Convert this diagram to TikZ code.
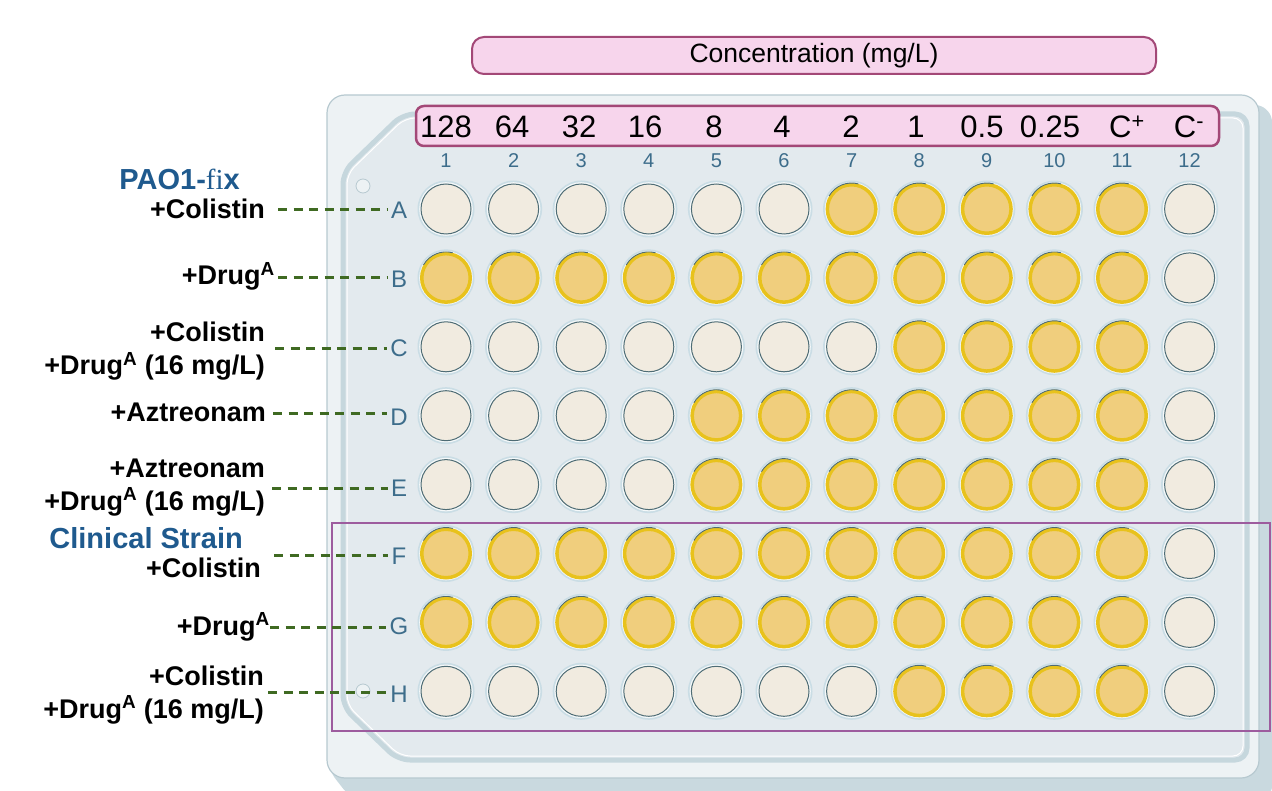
\documentclass[tikz,border=0pt]{standalone}
\usepackage{fontspec}
\setmainfont{Liberation Sans}
\newfontfamily\serifx{Liberation Serif}
\definecolor{halo}{HTML}{CADDE5}
\definecolor{ringc}{HTML}{F5F9FA}
\definecolor{emptyf}{HTML}{F1EBE0}
\definecolor{slate}{HTML}{4E6C75}
\definecolor{yfill}{HTML}{F0CE7D}
\definecolor{yrim}{HTML}{E8C21C}
\definecolor{plateL}{HTML}{EDF2F4}
\definecolor{plateB}{HTML}{B7C9D0}
\definecolor{plateD}{HTML}{C9D9DF}
\definecolor{plateI}{HTML}{E3EAEE}
\definecolor{bandc}{HTML}{C6D7DD}
\definecolor{hdrfill}{HTML}{F7D5EC}
\definecolor{hdrdraw}{HTML}{A34877}
\definecolor{steel}{HTML}{3D6D8B}
\definecolor{labblue}{HTML}{1F5A8E}
\definecolor{dashg}{HTML}{3F6A22}
\definecolor{purp}{HTML}{9D5C9E}
\tikzset{
  wellE/.style={circle, minimum size=50pt, inner sep=0pt, fill=emptyf, draw=slate, line width=1pt},
  wellY/.style={circle, minimum size=48.5pt, inner sep=0pt, fill=yfill, draw=yrim, line width=3.5pt},
  hdr/.style={anchor=base, inner sep=0pt, font=\fontsize{31}{34}\selectfont},
  colnum/.style={anchor=base, inner sep=0pt, text=steel, font=\fontsize{20}{23}\selectfont},
  rowlet/.style={anchor=base, inner sep=0pt, text=steel, font=\fontsize{24}{28}\selectfont},
  lab/.style={anchor=base east, inner sep=0pt, align=right, font=\bfseries\fontsize{27}{33}\selectfont},
  grp/.style={anchor=base east, inner sep=0pt, text=labblue, font=\bfseries\fontsize{29}{32}\selectfont},
  conn/.style={dashg, line width=3pt, dash pattern=on 9pt off 6.5pt},
  hole/.style={circle, minimum size=14pt, inner sep=0pt, draw=plateB, line width=0.8pt, fill=plateL},
}
\newcommand{\drugA}{+Drug\textsuperscript{A}}
\begin{document}
\begin{tikzpicture}[x=1pt,y=-1pt]
\useasboundingbox (0,0) rectangle (1272,791);
% plate base (3D side)
\fill[plateD, rounded corners=14pt] (1230,100) -- (1272,108) -- (1272,800) -- (352,800) -- (327,768) -- (327,110) -- cycle;
% plate top
\draw[plateB, fill=plateL, line width=1.2pt, rounded corners=18pt] (327,95) rectangle (1259,778);
% inner plate
\draw[bandc, fill=plateI, line width=5pt, rounded corners=12pt] (343,172) -- (403,114) -- (1247,114) -- (1247,760) -- (398,760) -- (343,707) -- cycle;
\draw[white, line width=1pt, rounded corners=10pt] (347,174) -- (405,118) -- (1243,118) -- (1243,756) -- (400,756) -- (347,705) -- cycle;
% holes
\node[hole] (hole1) at (363,186) {};
\node[hole] (hole2) at (363,691) {};
% concentration box
\node[draw=hdrdraw, fill=hdrfill, line width=2pt, rounded corners=12pt, minimum width=684pt, minimum height=37pt, inner sep=0pt, font=\fontsize{26.5}{30}\selectfont] (conc) at (814,55.5) {Concentration (mg/L)};
% header row
\node[draw=hdrdraw, fill=hdrfill, line width=2.5pt, rounded corners=8pt, minimum width=803pt, minimum height=40pt, inner sep=0pt] (hrow) at (817.5,126) {};
\foreach \v/\x [count=\k] in {128/446,64/512,32/579,16/645,8/714,4/782,2/851,1/916,0.5/982,0.25/1050} {
  \node[hdr] (h\k) at (\x,138) {\v};
}
\node[hdr] (h11) at (1127,138) {C\textsuperscript{+}};
\node[hdr] (h12) at (1189,138) {C\textsuperscript{-}};
% column numbers
\foreach \c in {1,...,12} {
  \pgfmathsetmacro\xx{446+67.6*(\c-1)}
  \node[colnum] (c\c) at (\xx,168) {\c};
}
% wells
\foreach \r/\t/\ly [count=\i] in {A/7/219,B/1/288,C/8/357,D/5/426,E/5/496,F/1/564,G/1/634,H/8/702} {
  \pgfmathsetmacro\yy{209+68.9*(\i-1)}
  \node[rowlet] (r\r) at (399,\ly) {\r};
  \foreach \c in {1,...,12} {
    \pgfmathsetmacro\xx{446+67.6*(\c-1)}
    \fill[halo] (\xx,\yy) circle[radius=28.5pt];
    \fill[ringc] (\xx,\yy) circle[radius=26.8pt];
    \pgfmathtruncatemacro\isy{(\c>=\t)&&(\c<12)}
    \ifnum\isy=1
      \node[wellY] (w\r\c) at (\xx,\yy) {};
      \draw[slate, line width=0.9pt] (w\r\c.150) arc[start angle=150, end angle=75, radius=26pt];
    \else
      \node[wellE] (w\r\c) at (\xx,\yy) {};
    \fi
  }
}
% purple group box
\draw[purp, line width=2.8pt] (332,523) rectangle (1270,731);
% labels
\node[grp] (g1) at (240,190) {PAO1-{\serifx\mdseries fi}x};
\node[grp] (g2) at (243,548) {Clinical Strain};
\node[lab] (lA) at (265,219) {+Colistin};
\node[lab] (lB) at (275,285) {\drugA};
\node[lab] (lC) at (265,375) {+Colistin\\\drugA\ (16 mg/L)};
\node[lab] (lD) at (266,422) {+Aztreonam};
\node[lab] (lE) at (265,510) {+Aztreonam\\\drugA\ (16 mg/L)};
\node[lab] (lF) at (261,577) {+Colistin};
\node[lab] (lG) at (270,635) {\drugA};
\node[lab] (lH) at (264,718) {+Colistin\\\drugA\ (16 mg/L)};
% connector start points
\coordinate (sA) at (278,210);
\coordinate (sB) at (278,278);
\coordinate (sC) at (275,349);
\coordinate (sD) at (273,414);
\coordinate (sE) at (272,488);
\coordinate (sF) at (274,555);
\coordinate (sG) at (270,627);
\coordinate (sH) at (268,692);
\foreach \r in {A,B,C,D,E,F,G,H} {
  \draw[conn] (s\r) -- ([xshift=-3pt]s\r -| r\r.west);
}
\end{tikzpicture}
\end{document}
